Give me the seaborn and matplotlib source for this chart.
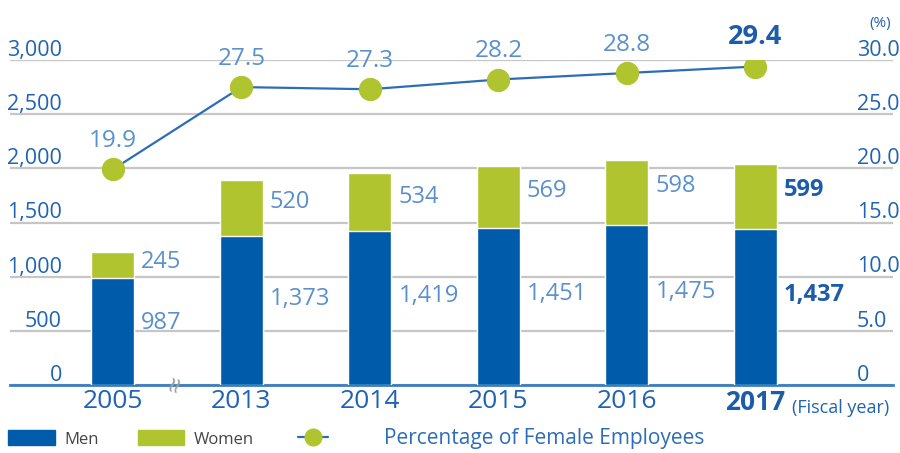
import numpy as np
import pandas as pd
import matplotlib
matplotlib.use("Agg")
import matplotlib.pyplot as plt
import matplotlib.transforms as mtransforms
from matplotlib.patches import Patch
from matplotlib.lines import Line2D
import seaborn as sns

# data
years = ["2005", "2013", "2014", "2015", "2016", "2017"]
men = [987, 1373, 1419, 1451, 1475, 1437]
women = [245, 520, 534, 569, 598, 599]
female_pct = [19.9, 27.5, 27.3, 28.2, 28.8, 29.4]
left_ticks = [0, 500, 1000, 1500, 2000, 2500, 3000]
right_ticks = [0, 5, 10, 15, 20, 25, 30]

BLUE = "#005BAB"
GREEN = "#B0C42F"
LINE = "#2D6DB8"
LABEL = "#5A90CD"
TICK = "#1F63B4"
DARK = "#1C5CA8"
GRID = "#c6c6c6"

sns.set_theme(style="white")
plt.rcParams["font.family"] = ["Open Sans", "DejaVu Sans"]

df = pd.DataFrame({"year": years, "men": men, "women": women})
df["total"] = df["men"] + df["women"]

fig = plt.figure(figsize=(9, 4.53), dpi=100)
ax = fig.add_axes([10 / 900, 1 - 385 / 453, 883 / 900, 325 / 453])

# stacked bars: total (green) with men (blue) on top
sns.barplot(data=df, x="year", y="total", color=GREEN, width=0.335,
            saturation=1, ax=ax, zorder=2)
sns.barplot(data=df, x="year", y="men", color=BLUE, width=0.335,
            saturation=1, ax=ax, zorder=3)

ax.set_ylim(0, 3000)
ax.set_xlim(-0.80, 6.07)
ax.set_yticks(left_ticks)
ax.set_axisbelow(True)
ax.grid(False)
ax.yaxis.grid(True, which="major", color=GRID, linewidth=1.6,
              linestyle="-")
ax.tick_params(axis="y", left=False, labelleft=False, length=0)
ax.tick_params(axis="x", bottom=False, length=0, pad=3)
ax.set_xlabel("")
ax.set_ylabel("")
for s in ["top", "left", "right"]:
    ax.spines[s].set_visible(False)
ax.spines["bottom"].set_color("#3C7DC2")
ax.spines["bottom"].set_linewidth(2)

ax.set_xticks(range(len(years)))
ax.set_xticklabels(years, fontsize=19, color=TICK)
ax.get_xticklabels()[-1].set_fontweight("bold")
ax.get_xticklabels()[-1].set_color(DARK)
ax.annotate("(Fiscal year)", xy=(len(years) - 1, 0),
            xycoords=("data", "axes fraction"), xytext=(26, -20),
            textcoords="offset points", ha="left", va="baseline",
            fontsize=13, color=TICK)

# left axis labels sitting on the gridlines
tl = mtransforms.blended_transform_factory(ax.transAxes, ax.transData)
for v in left_ticks:
    ax.annotate(f"{v:,}", xy=(0.059, v), xycoords=tl, xytext=(0, 3),
                textcoords="offset points", ha="right", va="baseline",
                fontsize=15.5, color=TICK)

# axis break mark between 2005 and 2013
ax.text(0.5, 0, "\u2248", transform=ax.transData, rotation=75,
        ha="center", va="center", fontsize=21, color="#a0a0a0", zorder=5)

# value labels next to the bars
for i, (m, w) in enumerate(zip(men, women)):
    last = i == len(years) - 1
    kw = dict(fontsize=17, color=DARK if last else LABEL,
              fontweight="bold" if last else "normal",
              ha="left", va="center", textcoords="offset points",
              xytext=(5, 0))
    ax.annotate(f"{m:,}", xy=(i + 0.335 / 2, m * 0.58), **kw)
    ax.annotate(f"{w:,}", xy=(i + 0.335 / 2, m + w * 0.6), **kw)

# percentage line on the right axis
ax2 = ax.twinx()
sns.lineplot(x=np.arange(len(years)), y=female_pct, ax=ax2, color=LINE,
             lw=1.6, marker="o", markersize=16, markerfacecolor=GREEN,
             markeredgecolor=GREEN, zorder=4)
ax2.set_ylim(0, 30)
ax2.set_yticks(right_ticks)
ax2.grid(False)
ax2.patch.set_visible(False)
ax2.tick_params(axis="y", right=False, labelright=False, length=0)
for s in ax2.spines.values():
    s.set_visible(False)

tr = mtransforms.blended_transform_factory(ax2.transAxes, ax2.transData)
for v in right_ticks:
    ax2.annotate("0" if v == 0 else f"{v:.1f}", xy=(0.959, v), xycoords=tr,
                 xytext=(0, 3), textcoords="offset points", ha="left",
                 va="baseline", fontsize=15.5, color=TICK)
ax2.annotate("(%)", xy=(0.985, 30), xycoords=tr, xytext=(0, 24),
             textcoords="offset points", ha="center", va="baseline",
             fontsize=11, color=TICK)

for i, p in enumerate(female_pct):
    last = i == len(years) - 1
    ax2.annotate(f"{p:.1f}", xy=(i, p), xytext=(0, 16),
                 textcoords="offset points", ha="center", va="baseline",
                 fontsize=19.5 if last else 17.5,
                 fontweight="bold" if last else "normal",
                 color=DARK if last else LABEL)

# legend along the bottom: bars, then the line entry
bar_handles = [Patch(facecolor=BLUE, edgecolor=BLUE),
               Patch(facecolor=GREEN, edgecolor=GREEN)]
leg1 = fig.legend(bar_handles, ["Men", "Women"], loc="center left",
                  bbox_to_anchor=(8 / 900, 0.031), ncol=2, frameon=False,
                  fontsize=12, handlelength=2.8, handleheight=1.0,
                  handletextpad=0.6, columnspacing=2.3, borderpad=0,
                  borderaxespad=0)
for t in leg1.get_texts():
    t.set_color("#444444")

line_handle = [Line2D([0], [0], color=LINE, lw=1.6, marker="o",
                      markersize=12, markerfacecolor=GREEN,
                      markeredgecolor=GREEN)]
leg2 = fig.legend(line_handle, ["Percentage of Female Employees"],
                  loc="center left", bbox_to_anchor=(298 / 900, 0.031),
                  frameon=False, fontsize=15, handlelength=1.45,
                  handletextpad=2.7, borderpad=0, borderaxespad=0)
leg2.get_texts()[0].set_color(LINE)

fig.savefig("out.png", dpi=100)
